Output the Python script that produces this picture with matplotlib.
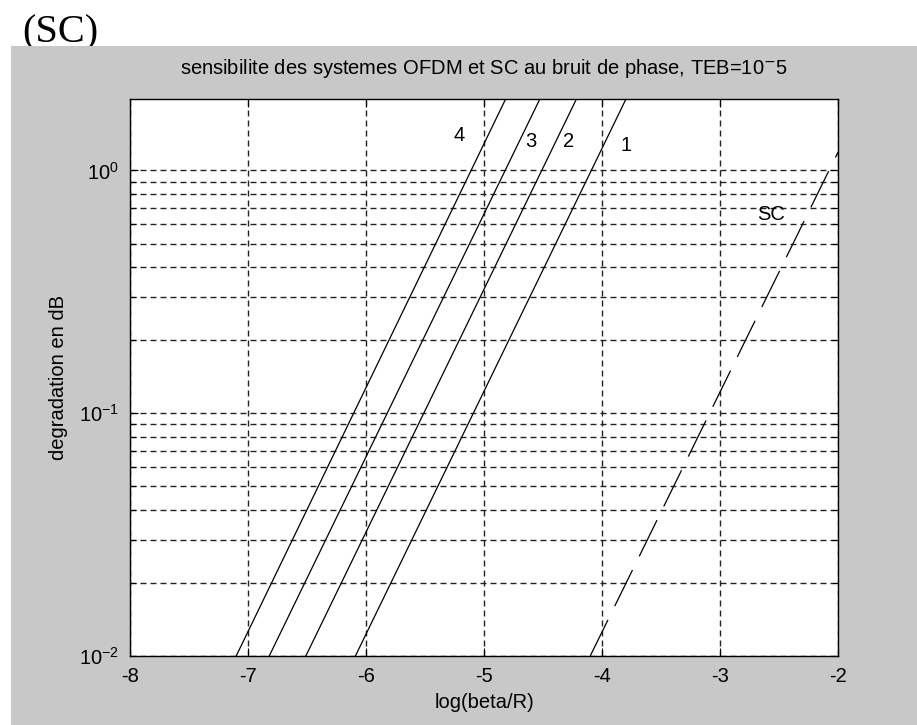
import numpy as np
import matplotlib
matplotlib.use("Agg")
import matplotlib.pyplot as plt
import matplotlib.ticker as ticker
from matplotlib.patches import Rectangle

# curves: straight lines in log(y), end points only
curve_names = ["1", "2", "3", "4"]
x_low = [-6.09, -6.51, -6.82, -7.10]      # log(beta/R) where degradation = 0.01
x_high = [-3.79, -4.21, -4.52, -4.81]     # log(beta/R) where degradation = 2
deg_low = 0.01
deg_high = 2.0

sc_x = [-4.10, -2.0]
sc_deg = [0.01, 1.19]

label_x = [-3.80, -4.28, -4.60, -5.21]
label_y = [1.27, 1.32, 1.32, 1.39]
sc_label_x = -2.57
sc_label_y = 0.66

xticks = [-8, -7, -6, -5, -4, -3, -2]

plt.rcParams["font.family"] = ["Liberation Sans", "DejaVu Sans"]
plt.rcParams["axes.unicode_minus"] = False
plt.rcParams["lines.scale_dashes"] = False

fs = 14.5

fig = plt.figure(figsize=(9.17, 7.25), dpi=100)
fig.patch.set_facecolor("white")

# "(SC)" header sits in the white strip, partly covered by the grey panel
fig.text(22 / 917, 1 - 42 / 725, "(SC)", family="Liberation Serif", fontsize=29,
         ha="left", va="baseline", zorder=-2)
fig.patches.append(Rectangle((11 / 917, 0), 1, (725 - 46) / 725, transform=fig.transFigure,
                             facecolor="#c8c8c8", edgecolor="none", zorder=-1))

ax = fig.add_axes([130 / 917, 1 - 656 / 725, 708 / 917, 557 / 725])
ax.set_facecolor("white")

for name, x0, x1 in zip(curve_names, x_low, x_high):
    ax.semilogy([x0, x1], [deg_low, deg_high], color="black", lw=0.9)
line_sc, = ax.semilogy(sc_x, sc_deg, color="black", lw=0.9)
line_sc.set_dashes((29, 11))

for name, lx, ly in zip(curve_names, label_x, label_y):
    ax.text(lx, ly, name, fontsize=fs, ha="center", va="center")
ax.text(sc_label_x, sc_label_y, "SC", fontsize=fs, ha="center", va="center")

ax.set_xlim(-8, -2)
ax.set_ylim(0.01, 1.97)
ax.set_xticks(xticks)
ax.set_xticklabels([str(v) for v in xticks])
ax.yaxis.set_major_locator(ticker.LogLocator(base=10, numticks=10))
ax.yaxis.set_minor_locator(ticker.LogLocator(base=10, subs=np.arange(2, 10), numticks=20))
ax.yaxis.set_minor_formatter(ticker.NullFormatter())

ax.grid(True, which="both", axis="y", color="#222222", lw=1.0, dashes=(4.3, 2.9))
ax.grid(True, which="major", axis="x", color="#222222", lw=1.0, dashes=(4.3, 2.9))

ax.tick_params(which="both", direction="in", top=True, right=True, labelsize=fs,
               colors="black", width=0.8)
ax.tick_params(which="major", length=6, pad=8)
ax.tick_params(which="minor", length=4)
for s in ax.spines.values():
    s.set_linewidth(1.0)

ax.set_title("sensibilite des systemes OFDM et SC au bruit de phase, TEB=10$^{-}$5",
             fontsize=fs, pad=18)
ax.set_xlabel("log(beta/R)", fontsize=fs)
ax.set_ylabel("degradation en dB", fontsize=fs)
ax.xaxis.set_label_coords(0.5, -0.066)
ax.yaxis.set_label_coords(-0.088, 0.5)

fig.savefig("out.png", dpi=100)
